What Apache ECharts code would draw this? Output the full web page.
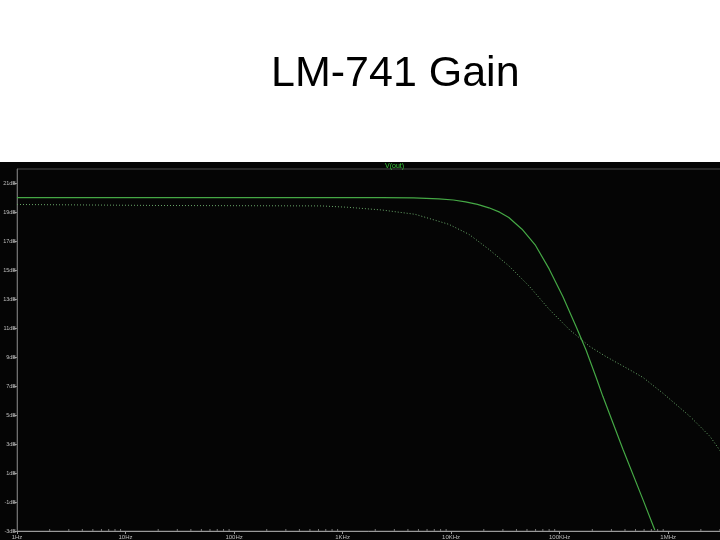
<!DOCTYPE html>
<html>
<head>
<meta charset="utf-8">
<script src="https://cdn.jsdelivr.net/npm/echarts@6/dist/echarts.min.js"></script>
<style>
html,body{margin:0;padding:0;background:#fff;}
#c{width:720px;height:540px;}
</style>
</head>
<body>
<div id="c"></div>
<script>
// ---- data ----
const chartTitle = 'LM-741 Gain';
const traceName = 'V(out)';
// solid trace: magnitude (dB)
const gainFreq = [1, 10, 100, 1000, 2300, 4500, 7700, 10500, 13600, 17500, 22300, 28000, 34000, 45000, 60000, 80000, 107000, 142000, 175000, 217000, 250000, 383000, 587000, 753000];
const gainDb   = [20.03, 20.03, 20.03, 20.03, 20.02, 20.0, 19.94, 19.86, 19.73, 19.56, 19.32, 19.02, 18.65, 17.84, 16.72, 15.1, 13.2, 11.1, 9.5, 7.6, 6.3, 2.65, -0.85, -2.93];
// dotted trace (second quantity of V(out), drawn against the visible axis)
const phaseFreq = [1, 21, 640, 1100, 2300, 4670, 9520, 14600, 22300, 34200, 52400, 80300, 123000, 188000, 260000, 332000, 450000, 587000, 899000, 1590000, 2430000, 3120000];
const phaseVal  = [19.55, 19.48, 19.45, 19.36, 19.17, 18.87, 18.18, 17.49, 16.45, 15.30, 13.91, 12.30, 10.91, 9.76, 9.1, 8.65, 8.1, 7.6, 6.5, 4.91, 3.53, 2.38];
// axis ticks
const yTickValues = [-3, -1, 1, 3, 5, 7, 9, 11, 13, 15, 17, 19, 21];
const xTickLabels = {1: '1Hz', 10: '10Hz', 100: '100Hz', 1000: '1KHz', 10000: '10KHz', 100000: '100KHz', 1000000: '1MHz'};
const xMinorTicks = [2,3,4,5,6,7,8,9, 20,30,40,50,60,70,80,90, 200,300,400,500,600,700,800,900,
  2000,3000,4000,5000,6000,7000,8000,9000, 20000,30000,40000,50000,60000,70000,80000,90000,
  200000,300000,400000,500000,600000,700000,800000,900000, 2000000,3000000];

const zip = (a, b) => a.map((v, i) => [v, b[i]]);

const chart = echarts.init(document.getElementById('c'), null, {renderer: 'canvas'});
chart.setOption({
  backgroundColor: '#ffffff',
  animation: false,
  title: {
    text: chartTitle,
    left: 266,
    top: 48,
    textStyle: {fontFamily: 'Liberation Sans, Arial, sans-serif', fontSize: 43, fontWeight: 'normal', color: '#000'}
  },
  legend: {
    data: [{name: traceName, icon: 'none'}],
    left: 380,
    top: 159,
    itemWidth: 0,
    itemGap: 0,
    padding: 0,
    textStyle: {color: '#3ccc3c', fontSize: 7, fontFamily: 'Liberation Sans, sans-serif'},
    selectedMode: false
  },
  graphic: [{
    type: 'rect',
    z: -100,
    silent: true,
    shape: {x: 0, y: 162, width: 720, height: 378},
    style: {fill: '#050505'}
  }],
  grid: {
    left: 17, right: -3, top: 169, bottom: 9,
    outerBoundsMode: 'none',
    containLabel: false,
    show: true,
    borderColor: '#4a4a4a',
    borderWidth: 1,
    backgroundColor: 'transparent'
  },
  xAxis: {
    type: 'log',
    logBase: 10,
    min: 1,
    max: 3200000,
    axisLine: {onZero: false, lineStyle: {color: '#9a9a9a', width: 1}},
    axisTick: {show: true, length: 3, inside: false, lineStyle: {color: '#9a9a9a'}},
    splitLine: {show: false},
    axisLabel: {
      color: '#bdbdbd',
      fontSize: 6,
      margin: 3,
      fontFamily: 'Liberation Sans, sans-serif',
      formatter: v => xTickLabels[Math.round(v)] && Math.abs(v - Math.round(v)) < 1e-6 ? xTickLabels[Math.round(v)] : ''
    }
  },
  yAxis: {
    type: 'value',
    min: -3,
    max: 22,
    axisLine: {show: true, onZero: false, lineStyle: {color: '#6e6e6e', width: 1}},
    axisTick: {show: true, length: 4, inside: false, customValues: yTickValues, lineStyle: {color: '#8a8a8a'}},
    splitLine: {show: false},
    axisLabel: {
      customValues: yTickValues,
      color: '#bdbdbd',
      fontSize: 5.5,
      margin: 1,
      fontFamily: 'Liberation Sans, sans-serif',
      formatter: v => v + 'dB'
    }
  },
  series: [
    {
      name: traceName,
      type: 'line',
      data: zip(gainFreq, gainDb),
      showSymbol: false,
      smooth: false,
      lineStyle: {color: '#45a845', width: 1.2},
      itemStyle: {color: '#45a845'},
      z: 3
    },
    {
      name: traceName + ' phase',
      type: 'line',
      data: zip(phaseFreq, phaseVal),
      showSymbol: false,
      smooth: false,
      lineStyle: {color: '#6aa86a', width: 1, type: [1, 2]},
      itemStyle: {color: '#6aa86a'},
      z: 2
    },
    {
      name: 'minor ticks',
      type: 'custom',
      silent: true,
      clip: false,
      data: xMinorTicks.map(f => [f, -3]),
      renderItem: (params, api) => {
        const p = api.coord([api.value(0), api.value(1)]);
        return {
          type: 'line',
          shape: {x1: p[0], y1: p[1], x2: p[0], y2: p[1] - 2},
          style: {stroke: '#7a7a7a', lineWidth: 1}
        };
      },
      z: 1
    }
  ]
});
</script>
</body>
</html>
